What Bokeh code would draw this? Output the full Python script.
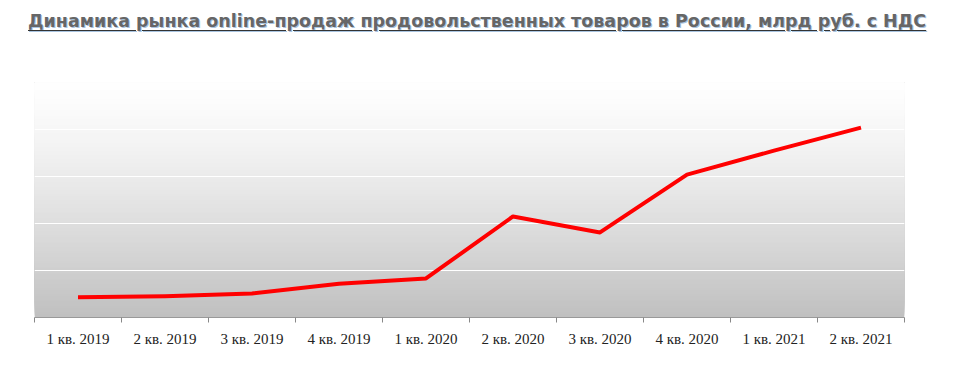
import numpy as np
from bokeh.plotting import figure
from bokeh.models import Div, Range1d, FixedTicker, ColumnDataSource
from bokeh.layouts import column
from bokeh.embed import file_html
from bokeh.resources import INLINE

title_text = "Динамика рынка online-продаж продовольственных товаров в России, млрд руб. с НДС"
quarters = ["1 кв. 2019", "2 кв. 2019", "3 кв. 2019", "4 кв. 2019", "1 кв. 2020",
            "2 кв. 2020", "3 кв. 2020", "4 кв. 2020", "1 кв. 2021", "2 кв. 2021"]
sales = [21.5, 22.5, 25.5, 36, 41.5, 107.5, 90.5, 152, 177.5, 202]
y_grid = [50, 100, 150, 200]
y_max = 250

n = len(quarters)
xpos = [i + 0.5 for i in range(n)]

div = Div(text='<span style="text-decoration: underline; text-decoration-color: #333333; '
               'text-underline-offset: 3px;">' + title_text + '</span>',
          width=959, height=50, margin=0,
          styles={"font-family": "DejaVu Sans", "font-weight": "bold", "font-size": "17.5px",
                  "color": "#666666",
                  "text-shadow": "1px 1px 0px #a9c4e0",
                  "padding-left": "28px", "padding-top": "9px", "white-space": "nowrap"})

p = figure(width=959, height=316, output_backend="svg", toolbar_location=None,
           x_range=Range1d(0, n), y_range=Range1d(0, y_max), margin=0,
           min_border_left=34, min_border_right=55, min_border_top=32, min_border_bottom=49)
p.outline_line_color = None
p.background_fill_color = "white"
p.border_fill_color = "white"

# background gradient (style): stacked bands, each reaching the top
edges = np.linspace(0, y_max, 121)[:-1]
t = edges / y_max
g = (255 - 63 * (1 - t) ** 1.3).astype(int)
cols = ["#%02x%02x%02x" % (v, v, v) for v in g]
bg = p.quad(left=0, right=n, bottom=edges, top=y_max, fill_color=cols, line_color=None)
bg.level = "image"

p.xgrid.visible = False
p.ygrid.ticker = FixedTicker(ticks=y_grid)
p.ygrid.grid_line_color = "white"
p.ygrid.grid_line_width = 1.2
p.yaxis.visible = False

src = ColumnDataSource(dict(x=xpos, y=sales))
p.line("x", "y", source=src, line_color="#ff0000", line_width=4, line_join="round")

ax = p.xaxis[0]
ax.ticker = FixedTicker(ticks=xpos, minor_ticks=list(range(n + 1)))
ax.major_label_overrides = {x: q for x, q in zip(xpos, quarters)}
ax.major_tick_out = 0
ax.major_tick_in = 0
ax.minor_tick_out = 5
ax.minor_tick_in = 0
ax.minor_tick_line_color = "#888888"
ax.axis_line_color = "#999999"
ax.major_label_text_font = "Liberation Serif"
ax.major_label_text_font_size = "15px"
ax.major_label_text_color = "#222222"
ax.major_label_standoff = 8

layout = column(div, p, spacing=0)
open("out.html", "w").write(file_html(layout, INLINE))
